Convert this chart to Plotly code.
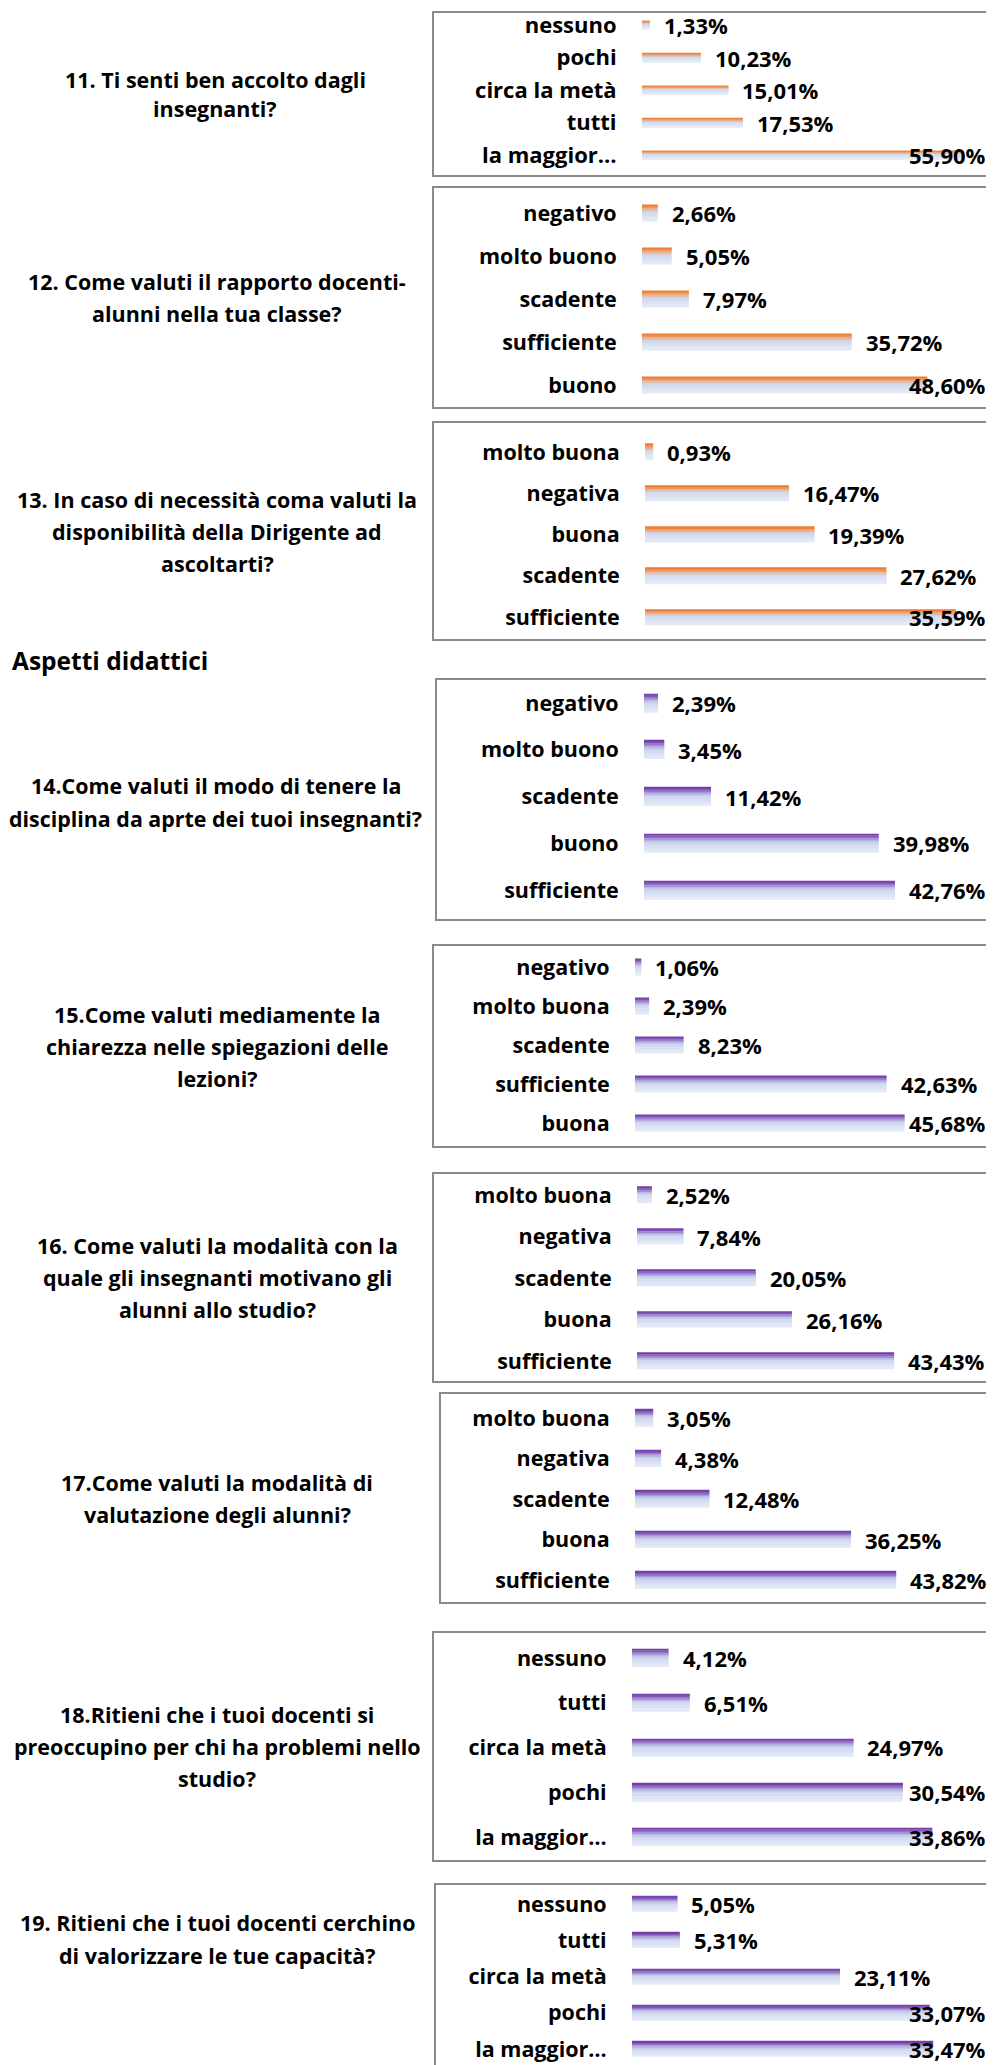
import plotly.graph_objects as go

# page is 994 x 2065; the html body has an 8px margin, so the figure starts at
# (8, 8) on the page; every pixel position below is given in page coordinates.
PAGE_W, PAGE_H = 994, 2065
M = 8
W, H = PAGE_W - M, PAGE_H - M

# ---------------- data ----------------
q11_cats = ["nessuno", "pochi", "circa la metà", "tutti", "la maggior…"]
q11_vals = [1.33, 10.23, 15.01, 17.53, 55.90]
q12_cats = ["negativo", "molto buono", "scadente", "sufficiente", "buono"]
q12_vals = [2.66, 5.05, 7.97, 35.72, 48.60]
q13_cats = ["molto buona", "negativa", "buona", "scadente", "sufficiente"]
q13_vals = [0.93, 16.47, 19.39, 27.62, 35.59]
q14_cats = ["negativo", "molto buono", "scadente", "buono", "sufficiente"]
q14_vals = [2.39, 3.45, 11.42, 39.98, 42.76]
q15_cats = ["negativo", "molto buona", "scadente", "sufficiente", "buona"]
q15_vals = [1.06, 2.39, 8.23, 42.63, 45.68]
q16_cats = ["molto buona", "negativa", "scadente", "buona", "sufficiente"]
q16_vals = [2.52, 7.84, 20.05, 26.16, 43.43]
q17_cats = ["molto buona", "negativa", "scadente", "buona", "sufficiente"]
q17_vals = [3.05, 4.38, 12.48, 36.25, 43.82]
q18_cats = ["nessuno", "tutti", "circa la metà", "pochi", "la maggior…"]
q18_vals = [4.12, 6.51, 24.97, 30.54, 33.86]
q19_cats = ["nessuno", "tutti", "circa la metà", "pochi", "la maggior…"]
q19_vals = [5.05, 5.31, 23.11, 33.07, 33.47]

q11_text = ["11. Ti senti ben accolto dagli", "insegnanti?"]
q12_text = ["12. Come valuti il rapporto docenti-", "alunni nella tua classe?"]
q13_text = ["13. In caso di necessità coma valuti la", "disponibilità della Dirigente ad", "ascoltarti?"]
q14_text = ["14.Come valuti il modo di tenere la", "disciplina da aprte dei tuoi insegnanti?"]
q15_text = ["15.Come valuti mediamente la", "chiarezza nelle spiegazioni delle", "lezioni?"]
q16_text = ["16. Come valuti la modalità con la", "quale gli insegnanti motivano gli", "alunni allo studio?"]
q17_text = ["17.Come valuti la modalità di", "valutazione degli alunni?"]
q18_text = ["18.Ritieni che i tuoi docenti si", "preoccupino per chi ha problemi nello", "studio?"]
q19_text = ["19. Ritieni che i tuoi docenti cerchino", "di valorizzare le tue capacità?"]
section_title = "Aspetti didattici"

# ---------------- styling / positions (page pixels) ----------------
ORANGE = [(0.0, (236, 118, 42)), (0.14, (240, 132, 58)), (0.33, (228, 182, 160)),
          (0.5, (207, 218, 238)), (1.0, (229, 235, 247))]
PURPLE = [(0.0, (110, 50, 160)), (0.14, (128, 84, 184)), (0.33, (172, 162, 218)),
          (0.5, (206, 214, 239)), (1.0, (229, 235, 247))]

FONT = "Open Sans"


def lines_y(box, n, step):
    c = (box[1] + box[3]) / 2
    return [c + (k - (n - 1) / 2) * step for k in range(n)]


panels = [
    dict(c=q11_cats, v=q11_vals, t=q11_text, box=(433, 12, 1004, 176), r0=25, sp=32.5,
         bs=642, sc=5.75, th=8.5, tx=215, ty=[80, 109], ts=21.5, g=ORANGE, ls=22, vs=22),
    dict(c=q12_cats, v=q12_vals, t=q12_text, box=(433, 187, 992, 408), r0=213, sp=43,
         bs=642, sc=5.87, th=17, tx=217, ty=None, ts=21.5, g=ORANGE, ls=21.5, vs=22),
    dict(c=q13_cats, v=q13_vals, t=q13_text, box=(433, 422, 1004, 640), r0=452, sp=41.3,
         bs=645, sc=8.74, th=15.7, tx=217, ty=None, ts=21.5, g=ORANGE, ls=21.5, vs=22),
    dict(c=q14_cats, v=q14_vals, t=q14_text, box=(436, 679, 1004, 920), r0=703, sp=46.75,
         bs=644, sc=5.87, th=18.3, tx=215.6, ty=[785, 818], ts=21.4, g=PURPLE, ls=21.5, vs=22),
    dict(c=q15_cats, v=q15_vals, t=q15_text, box=(433, 945, 1004, 1147), r0=967, sp=39,
         bs=635, sc=5.9, th=15.7, tx=217, ty=None, ts=21.5, g=PURPLE, ls=21.5, vs=22),
    dict(c=q16_cats, v=q16_vals, t=q16_text, box=(433, 1173, 1004, 1382), r0=1195, sp=41.5,
         bs=637, sc=5.92, th=15.7, tx=217, ty=None, ts=21.5, g=PURPLE, ls=21.5, vs=22),
    dict(c=q17_cats, v=q17_vals, t=q17_text, box=(440, 1393, 1004, 1603), r0=1418, sp=40.5,
         bs=635, sc=5.96, th=16.7, tx=217, ty=None, ts=21.5, g=PURPLE, ls=21.5, vs=22),
    dict(c=q18_cats, v=q18_vals, t=q18_text, box=(433, 1632, 1004, 1861), r0=1658, sp=44.75,
         bs=632, sc=8.87, th=17.7, tx=217, ty=None, ts=21.5, g=PURPLE, ls=21.5, vs=22),
    dict(c=q19_cats, v=q19_vals, t=q19_text, box=(435, 1884, 1004, 2100), r0=1904, sp=36.3,
         bs=632, sc=9.0, th=15, tx=217, ty=[1922, 1955], ts=21.5, g=PURPLE, ls=21.5, vs=22),
]

RIGHT_LIMIT = 988
N_STRIPS = 12


def grad(stops, t):
    for (t0, c0), (t1, c1) in zip(stops[:-1], stops[1:]):
        if t0 <= t <= t1:
            f = (t - t0) / (t1 - t0) if t1 > t0 else 0
            c = [round(a + (b - a) * f) for a, b in zip(c0, c1)]
            return "rgb(%d,%d,%d)" % tuple(c)
    return "rgb(%d,%d,%d)" % stops[-1][1]


def fmt(v):
    return ("%.2f" % v).replace(".", ",") + "%"


def px(x):
    return (x - M) / W


def py(y):
    return 1 - (y - M) / H


fig = go.Figure()
layout = dict(
    width=W, height=H, margin=dict(l=0, r=0, t=0, b=0),
    paper_bgcolor="white", plot_bgcolor="rgba(0,0,0,0)",
    barmode="overlay", showlegend=False,
)
shapes = []
annotations = []

for i, p in enumerate(panels, start=1):
    xa = "x" if i == 1 else "x%d" % i
    ya = "y" if i == 1 else "y%d" % i
    n = len(p["c"])
    xmax = (RIGHT_LIMIT - p["bs"]) / p["sc"]
    top = max(M, p["r0"] - p["sp"] / 2)
    bot = min(M + H, p["r0"] + p["sp"] * (n - 1) + p["sp"] / 2)
    yr = [(bot - p["r0"]) / p["sp"], (top - p["r0"]) / p["sp"]]
    wcat = p["th"] / p["sp"]

    for k in range(N_STRIPS):
        t = (k + 0.5) / N_STRIPS
        fig.add_trace(go.Bar(
            y=p["c"], x=p["v"], orientation="h",
            width=wcat / N_STRIPS * 1.08, offset=-wcat / 2 + k * wcat / N_STRIPS,
            marker=dict(color=grad(p["g"], t), line=dict(width=0)),
            xaxis=xa, yaxis=ya, hoverinfo="skip",
        ))

    xkey = "xaxis" if i == 1 else "xaxis%d" % i
    ykey = "yaxis" if i == 1 else "yaxis%d" % i
    layout[xkey] = dict(domain=[px(p["bs"]), px(RIGHT_LIMIT)], range=[0, xmax],
                        visible=False, anchor=ya, fixedrange=True)
    layout[ykey] = dict(domain=[py(bot), py(top)], type="category",
                        categoryarray=p["c"], categoryorder="array",
                        range=yr, anchor=xa,
                        showgrid=False, zeroline=False, showline=False,
                        ticks="outside", ticklen=20, tickcolor="rgba(0,0,0,0)",
                        tickfont=dict(family=FONT, size=p["ls"], color="black", weight="bold"),
                        fixedrange=True)

    for c, v in zip(p["c"], p["v"]):
        txt = fmt(v)
        est_w = (len(txt) - 1) * p["vs"] * 0.55 + p["vs"] * 0.87
        end_px = p["bs"] + v * p["sc"]
        vfont = dict(family=FONT, size=p["vs"], color="black", weight="bold")
        if end_px + 12 + est_w > RIGHT_LIMIT:
            annotations.append(dict(x=xmax, y=c, xref=xa, yref=ya, text=txt, showarrow=False,
                                    xanchor="right", yanchor="middle", font=vfont))
        else:
            annotations.append(dict(x=v, y=c, xref=xa, yref=ya, text=txt, showarrow=False,
                                    xanchor="left", yanchor="middle", xshift=12, font=vfont))

    ty = p["ty"] if p["ty"] else lines_y(p["box"], len(p["t"]), 32)
    for line, yy in zip(p["t"], ty):
        annotations.append(dict(x=px(p["tx"]), y=py(yy), xref="paper", yref="paper", text=line,
                                showarrow=False, xanchor="center", yanchor="middle",
                                font=dict(family=FONT, size=p["ts"], color="black", weight="bold")))

    x0, y0, x1, y1 = p["box"]
    shapes.append(dict(type="rect", xref="paper", yref="paper",
                       x0=px(x0), x1=px(x1), y0=py(y1), y1=py(y0),
                       line=dict(color="#8a8a8a", width=2), fillcolor="rgba(0,0,0,0)", layer="below"))

annotations.append(dict(x=px(9.5), y=py(660), xref="paper", yref="paper", text=section_title,
                        showarrow=False, xanchor="left", yanchor="middle",
                        font=dict(family=FONT, size=24.5, color="black", weight="bold")))

layout["shapes"] = shapes
layout["annotations"] = annotations
fig.update_layout(**layout)
fig.write_html("out.html")
